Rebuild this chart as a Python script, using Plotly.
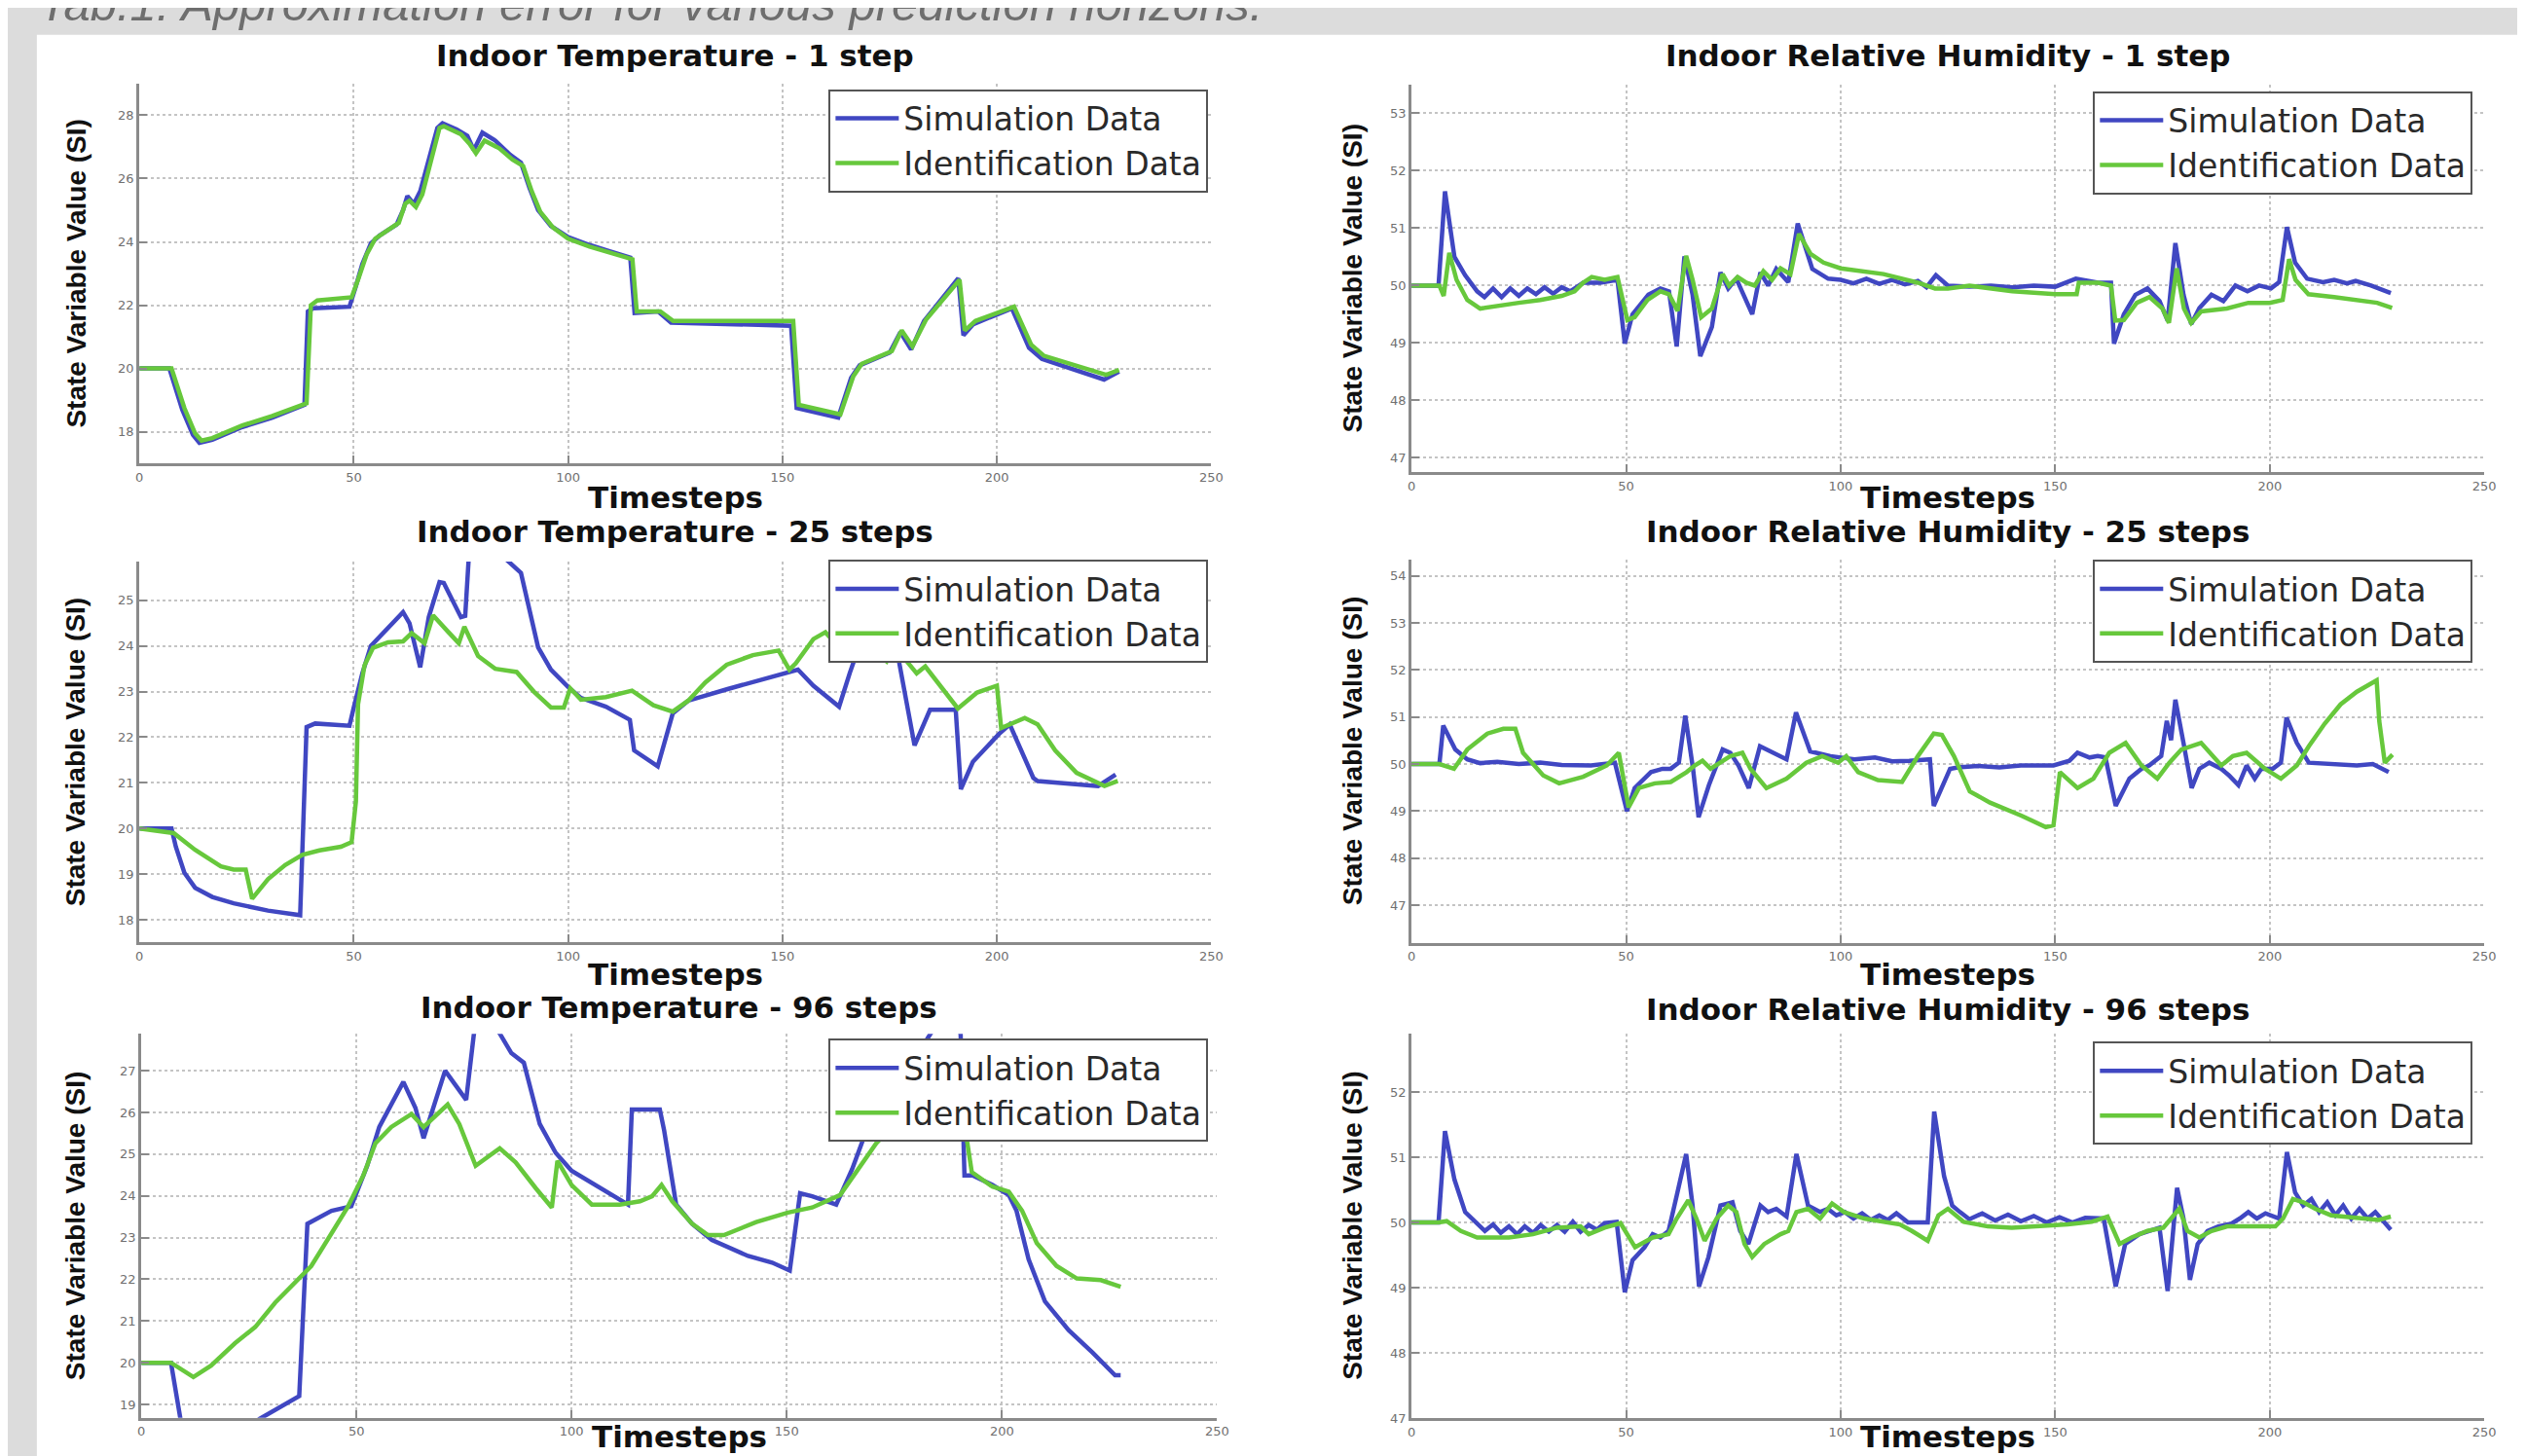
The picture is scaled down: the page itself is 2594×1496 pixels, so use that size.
import plotly.graph_objects as go

W, H = 2594, 1496

# ---------------- data ----------------
# Panel 1: Indoor Temperature - 1 step
t1_sim = [0,7,10,12.5,14,17,24,31,38.5,39.3,40.5,49,50.5,52,54,56,60,61.5,62.5,64,65.5,69.5,70.7,74,76.5,78,80,83,86.5,89,91,93,96,100,105,114.5,115.5,121,124,152,153.3,163,166,168,175,177.5,180,183,191,192.2,194.5,203.5,207.5,210.5,225,228.5]
v1_sim = [20,20,18.7,17.9,17.65,17.75,18.15,18.45,18.85,21.8,21.9,21.95,22.6,23.3,23.95,24.2,24.55,25.0,25.45,25.2,25.6,27.6,27.75,27.55,27.35,26.9,27.45,27.2,26.75,26.5,25.7,25.0,24.5,24.15,23.9,23.5,21.75,21.8,21.45,21.35,18.75,18.45,19.7,20.1,20.5,21.15,20.6,21.5,22.85,21.05,21.4,21.9,20.65,20.3,19.65,19.9]
t1_id = [0,7.5,10.5,13,14.5,17,24,31,39,40,41.5,49.5,51,53,55,60.5,62,63,64.5,66,70,71,75,77,78.5,80.5,84,87,89.5,91.5,93.5,96.5,100,105,115,116,121.5,124.5,152.5,153.8,163.5,166.5,168.5,175.5,177.8,180.3,183.5,191.3,192.5,195,204,208,211,225.5,228.5]
v1_id = [20,20,18.75,17.95,17.72,17.8,18.2,18.5,18.9,22.0,22.15,22.25,22.8,23.6,24.1,24.6,25.2,25.3,25.1,25.5,27.6,27.65,27.4,27.1,26.8,27.2,26.95,26.6,26.4,25.6,24.95,24.45,24.1,23.85,23.45,21.8,21.8,21.5,21.5,18.85,18.55,19.75,20.15,20.55,21.2,20.7,21.55,22.8,21.2,21.5,21.95,20.75,20.4,19.8,19.95]

# Panel 2: Indoor Relative Humidity - 1 step
t2_sim = [0,6.3,7.8,10,12.5,15.3,17,19,21,23,25,27,29,31,33,35,37,40,44,48,49.7,51.5,55.2,58,60,61.8,63.6,65.5,67.3,70,72,73.8,75.7,77.6,79.4,81.3,83.1,85,87.8,90,93.4,97.1,100,103,106,109,112,115,118,120,122.2,125,130,135,140,145,150,154.8,160,163,163.7,166,168.7,171.5,174.3,176.2,178,179.9,181.7,183.6,186.4,189.2,192,194.8,197.5,200.3,202.2,204,205.9,208.7,212.4,215,218,220,223.6,228.2]
v2_sim = [50,50,51.64,50.5,50.18,49.9,49.8,49.95,49.8,49.95,49.82,49.95,49.85,49.97,49.86,49.97,49.9,50.05,50.05,50.1,48.99,49.5,49.84,49.95,49.9,48.94,50.51,49.84,48.77,49.28,50.23,49.95,50.12,49.78,49.5,50.23,50.0,50.29,50.06,51.08,50.29,50.12,50.1,50.04,50.12,50.03,50.1,50.02,50.08,49.97,50.18,50.0,49.98,50.0,49.97,50.0,49.98,50.12,50.05,50.05,48.99,49.5,49.84,49.95,49.73,49.39,50.74,49.84,49.33,49.61,49.84,49.73,50.0,49.9,50.0,49.95,50.06,51.02,50.4,50.12,50.06,50.1,50.04,50.08,50.0,49.87]
t2_id = [0,6.5,7.5,8.8,10.5,13,16,20,25,30,35,38,40,42,45,48,50.3,52,55,58,60,62,64,65.5,67.5,70,72.5,74,76,78,80,82,84,86,88.3,90.3,93,96,100,110,118,122,125,130,135,140,150,155,155.5,160,163,164,166,169,172,175,176.5,178.3,180,181.7,184,190,195,200,203,204.5,206,209,215,220,225,228.5]
v2_id = [50,50,49.82,50.57,50.1,49.75,49.6,49.65,49.7,49.75,49.82,49.9,50.05,50.15,50.1,50.15,49.4,49.45,49.75,49.9,49.85,49.56,50.52,50.1,49.45,49.6,50.2,50.0,50.15,50.05,50.0,50.25,50.1,50.3,50.2,50.9,50.55,50.4,50.3,50.2,50.05,49.95,49.95,50.0,49.95,49.9,49.85,49.85,50.05,50.05,50.0,49.39,49.4,49.7,49.8,49.6,49.35,50.3,49.6,49.35,49.55,49.6,49.7,49.7,49.75,50.46,50.1,49.85,49.8,49.75,49.7,49.61]

# Panel 3: Indoor Temperature - 25 steps
t3_sim = [0,7.5,8.5,10.5,13,17,22,30,37.5,39,41,49,50,52,54,58,61.5,63,65.5,67.5,70,71,75,76,76.8,79,83,85.5,89,93,96,100,103,108.8,114.4,115.4,120.9,124.4,128,137,149.1,153.6,157.2,163.2,165.7,168.2,171,173,175.5,176.5,180.8,184.4,190.4,191.6,194.4,200.5,203,208.5,209.5,215.6,223.6,227.7]
v3_sim = [20,20,19.6,19.03,18.7,18.5,18.36,18.2,18.1,22.22,22.3,22.25,22.65,23.4,24.0,24.4,24.74,24.5,23.53,24.63,25.4,25.38,24.63,24.66,25.9,26.6,26.5,25.9,25.6,23.97,23.48,23.1,22.86,22.67,22.38,21.71,21.36,22.52,22.8,23.05,23.37,23.48,23.13,22.67,23.41,24.08,23.85,23.7,24.05,24.0,21.82,22.6,22.6,20.86,21.46,22.07,22.28,21.11,21.04,21.0,20.93,21.18]
t3_id = [0,8,13,19,22,24.8,26.3,30,34,38,42,47,49.5,50.5,51,52.5,54.5,58,61.5,63.5,66.5,68.5,72,74.5,75.8,79,83,88,92,96,99,100.5,103,108.8,114.9,119.9,124.4,128,132,137,143.1,149.1,151.6,153.1,157.2,160,163.2,166,170,174.3,176.3,178.8,181.3,183.3,190.9,195.4,200,201,203,206.5,209.5,213.6,218.6,223.6,225.1,228.2]
v3_id = [20,19.9,19.53,19.17,19.1,19.1,18.46,18.89,19.2,19.42,19.52,19.6,19.7,20.59,22.72,23.57,23.96,24.08,24.1,24.28,24.06,24.67,24.31,24.06,24.42,23.78,23.5,23.43,23.0,22.65,22.65,23.07,22.82,22.88,23.02,22.7,22.56,22.8,23.2,23.59,23.8,23.9,23.48,23.62,24.15,24.3,23.97,24.2,24.0,23.66,23.97,23.69,23.4,23.55,22.63,22.98,23.13,22.2,22.28,22.42,22.28,21.71,21.22,21.0,20.93,21.04]

# Panel 4: Indoor Relative Humidity - 25 steps
t4_sim = [0,6.5,7.4,10.2,13,16,20,25,30,35,41.8,47.4,50.2,52,55.8,58.5,60.4,62.3,63.8,65.6,66.9,69.3,72.5,74.3,76.2,78.6,81.2,83.6,87.4,89.6,92.9,97.6,103.2,108,112,116,120.8,121.7,125.5,127.3,132,137,142,149.6,153.3,155.2,158,159.9,161.7,164.1,167.3,170.1,171.9,174.7,176,177,178,179.9,181.8,183.6,185.9,188.7,190.5,192.7,194.6,196.5,198,200.7,202.6,203.9,206.3,209.1,214.7,220.3,224,227.7]
v4_sim = [50,50,50.82,50.31,50.1,50.02,50.05,50.0,50.03,49.98,49.97,50.03,49.0,49.49,49.83,49.9,49.9,50.03,51.03,49.9,48.87,49.55,50.31,50.24,49.97,49.49,50.38,50.27,50.1,51.1,50.27,50.17,50.1,50.14,50.06,50.07,50.1,49.11,49.9,49.93,49.96,49.93,49.97,49.97,50.07,50.24,50.14,50.17,50.14,49.11,49.69,49.9,49.97,50.17,50.92,50.51,51.37,50.45,49.49,49.9,50.03,49.9,49.76,49.55,49.97,49.69,49.9,49.9,50.03,50.99,50.45,50.03,50.0,49.97,50.0,49.83]
t4_id = [0,6.5,9.9,13,17.7,21.4,24.2,26,30.7,34.4,40,45.5,48.3,50.6,53,56.7,60.4,64.1,66,67.8,69.7,74.3,77.1,79,82.7,87.4,92,95.7,99.4,101.3,104.1,108.7,114.3,118,121.7,123.6,126.4,130.1,134.8,142.2,147.8,149.6,151.1,155.2,158.9,162.6,166.4,170.1,173.8,176.6,179.4,184,188.7,191.4,194.6,198.9,202.6,206.3,209.1,212.8,216.5,220.3,224.9,225.5,226.8,228.6]
v4_id = [50,50,49.9,50.31,50.65,50.75,50.75,50.24,49.76,49.59,49.73,49.97,50.24,49.08,49.49,49.59,49.62,49.83,49.97,50.07,49.9,50.17,50.24,49.9,49.49,49.69,50.03,50.17,50.03,50.17,49.83,49.66,49.62,50.17,50.65,50.62,50.17,49.42,49.18,48.9,48.66,48.7,49.83,49.49,49.69,50.24,50.45,49.97,49.69,50.03,50.31,50.45,49.97,50.17,50.24,49.9,49.69,49.97,50.38,50.86,51.27,51.54,51.78,50.92,50.03,50.2]

# Panel 5: Indoor Temperature - 96 steps
t5_sim = [0,6.9,9.1,10,26,27.4,36.7,38.6,44.2,48.8,52.5,55.3,60.9,63.7,65.6,70.6,75.5,77.3,80,83.3,86,88.9,92.6,96.3,100,105.6,110.3,113.1,114,120.5,121.5,124.3,128,132.6,141,146.6,150.7,153.1,155.9,161.5,165.2,168,172.7,178,183.5,186,190.4,191.3,193.2,197.8,201.6,203.4,206.2,210,215.5,221.1,226.3,227.6]
v5_sim = [20,20,18.65,18.4,18.5,18.65,19.2,23.33,23.64,23.75,24.72,25.65,26.73,26.11,25.38,27.0,26.3,27.89,28.4,27.89,27.42,27.19,25.72,25.03,24.6,24.26,23.99,23.79,26.07,26.07,25.57,23.79,23.33,22.94,22.56,22.4,22.21,24.06,23.99,23.79,24.64,25.42,25.88,27.0,27.9,28.3,27.9,24.49,24.49,24.26,24.02,23.64,22.48,21.47,20.78,20.24,19.7,19.7]
t5_id = [0,6.9,12.1,16.2,21.8,26.5,31.1,35.8,39.5,44.2,47.9,51.6,54.4,58.1,62.8,65.6,71.2,73.9,77.7,83.3,87,91.7,95.4,96.7,100,104.7,111.2,115.9,118.7,120.9,123.4,128,131.7,135.4,142.9,150.3,155.9,162.4,167.1,170.8,174.5,176.4,182,188,190,193,197.8,201.6,204.7,208.1,212.7,217.4,223,227.6]
v5_id = [20,20,19.66,19.93,20.47,20.86,21.44,21.94,22.32,23.1,23.72,24.49,25.26,25.65,25.96,25.65,26.19,25.72,24.72,25.14,24.8,24.18,23.72,24.84,24.26,23.79,23.79,23.87,23.99,24.26,23.87,23.33,23.06,23.06,23.37,23.6,23.72,24.02,24.72,25.26,25.65,26.03,26.6,27.0,26.6,24.57,24.22,24.1,23.64,22.87,22.32,22.02,21.98,21.82]

# Panel 6: Indoor Relative Humidity - 96 steps
t6_sim = [0,6.3,7.8,10,12.5,15.3,17.1,19,20.8,22.7,24.6,26.4,28.3,30.1,32,33.9,35.7,37.6,39.4,41.3,43.2,45,47.8,49.7,51.5,54.3,56.2,58,59.9,61.8,64,65.5,67,69.2,72,74.8,76.6,78.5,81.3,83.1,85,87.4,89.7,92.4,95.2,97,99,101,103,105,107,109,111,113,115.7,120.3,121.8,124.1,126,127.8,130,133,136,139,142,145,148,151,154,157,161.3,164.1,166.3,169.6,172.4,174.3,176.2,178.4,179.9,181.4,183.2,185.5,188,191,193,195,197,199,202.2,204,205.9,207.8,209.7,211.5,213.4,215.3,217.1,219,220.9,222.8,224.6,228.2]
v6_sim = [50,50,51.4,50.66,50.16,49.97,49.87,49.97,49.84,49.94,49.82,49.94,49.84,49.96,49.86,49.96,49.86,50.01,49.86,49.96,49.89,49.99,50.01,48.93,49.42,49.62,49.82,49.77,49.87,50.41,51.05,50.26,49.02,49.47,50.26,50.31,49.87,49.67,50.26,50.16,50.21,50.09,51.05,50.26,50.16,50.21,50.11,50.16,50.06,50.14,50.04,50.11,50.04,50.14,50.0,50.0,51.7,50.71,50.26,50.16,50.05,50.14,50.03,50.12,50.02,50.1,50.0,50.08,50.0,50.07,50.06,49.02,49.67,49.82,49.87,49.92,48.95,50.53,50.06,49.12,49.67,49.87,49.94,49.98,50.06,50.16,50.06,50.14,50.06,51.08,50.46,50.26,50.36,50.16,50.31,50.11,50.26,50.06,50.21,50.06,50.16,49.89]
t6_id = [0,6.3,8.2,11.5,15.3,22.7,28.3,33.9,39.4,41.3,45,48.7,52.1,56.2,59.9,61.8,64.5,66.4,68.3,71.1,73.8,75.7,77.6,79.4,82.2,86,87.8,89.7,92.4,95.2,98,100.8,105.5,110.1,113.8,116.6,120.3,122.8,125,128.7,134.3,139.9,145.5,152.9,158.5,162.2,165,167.8,171.5,175.2,178.9,180.8,183.6,186.4,190.1,195.7,201.3,203.1,205.4,207.8,210.6,214.3,218,221.7,225.4,228.2]
v6_id = [50,50,50.02,49.87,49.77,49.77,49.82,49.92,49.94,49.82,49.92,49.99,49.62,49.77,49.82,50.06,50.34,50.06,49.72,50.06,50.26,50.16,49.67,49.47,49.67,49.82,49.87,50.16,50.21,50.06,50.29,50.16,50.06,50.01,49.97,49.87,49.72,50.11,50.21,50.01,49.94,49.92,49.94,49.97,50.01,50.09,49.67,49.77,49.87,49.92,50.21,49.87,49.77,49.87,49.94,49.94,49.94,50.06,50.36,50.31,50.21,50.11,50.09,50.06,50.04,50.09]

titles = ["Indoor Temperature - 1 step", "Indoor Relative Humidity - 1 step",
          "Indoor Temperature - 25 steps", "Indoor Relative Humidity - 25 steps",
          "Indoor Temperature - 96 steps", "Indoor Relative Humidity - 96 steps"]
x_ticks = [0, 50, 100, 150, 200, 250]
y_ticks = [[18, 20, 22, 24, 26, 28], [47, 48, 49, 50, 51, 52, 53],
           [18, 19, 20, 21, 22, 23, 24, 25], [47, 48, 49, 50, 51, 52, 53, 54],
           [19, 20, 21, 22, 23, 24, 25, 26, 27], [47, 48, 49, 50, 51, 52]]
y_ranges = [(17, 29), (46.75, 53.5), (17.5, 25.85), (46.2, 54.35), (18.68, 27.88), (47, 52.9)]
series = [(t1_sim, v1_sim, t1_id, v1_id), (t2_sim, v2_sim, t2_id, v2_id),
          (t3_sim, v3_sim, t3_id, v3_id), (t4_sim, v4_sim, t4_id, v4_id),
          (t5_sim, v5_sim, t5_id, v5_id), (t6_sim, v6_sim, t6_id, v6_id)]

# ---------------- layout geometry (pixels) ----------------
x_boxes = [(132, 1240), (1447, 2556), (132, 1240), (1447, 2556), (134, 1246), (1447, 2556)]
y_boxes = [(78.3, 470.7), (79.3, 479.8), (572, 965.6), (570, 965.8), (1060, 1456.6), (1059.3, 1457)]
title_y = [49, 49, 541, 541, 1033, 1035]
xlabel_y = [506, 506, 998, 998, 1476, 1476]
ytitle_x = [66, 1386, 66, 1386, 66, 1386]
legend_boxes = [(1237, 84), (2544, 86), (1237, 570), (2544, 570), (1237, 1065), (2544, 1068)]

BLUE = "#4047c2"
GREEN = "#67c83c"

def fx(p):
    return p / W

def fy(p):
    return 1 - p / H

fig = go.Figure()
layout = dict(
    width=W, height=H, margin=dict(l=0, r=0, t=0, b=0),
    paper_bgcolor="#dcdcdc", plot_bgcolor="white",
    showlegend=True,
)
annotations = []
for i in range(6):
    n = i + 1
    xa = "x" if n == 1 else f"x{n}"
    ya = "y" if n == 1 else f"y{n}"
    lg = "legend" if n == 1 else f"legend{n}"
    ts, vs, ti, vi = series[i]
    fig.add_trace(go.Scatter(x=ts, y=vs, mode="lines", name="Simulation Data",
                             line=dict(color=BLUE, width=4.5), xaxis=xa, yaxis=ya, legend=lg))
    fig.add_trace(go.Scatter(x=ti, y=vi, mode="lines", name="Identification Data",
                             line=dict(color=GREEN, width=4.5), xaxis=xa, yaxis=ya, legend=lg))
    axis_common = dict(showline=True, linecolor="#8a8a8a", linewidth=3, mirror=False,
                       showgrid=True, gridcolor="#c4c4c4", griddash="dot", gridwidth=2,
                       ticks="inside", ticklen=8, tickcolor="#8a8a8a", tickwidth=2,
                       zeroline=False,
                       tickfont=dict(family="DejaVu Sans", size=13, color="#707070"))
    xk = "xaxis" if n == 1 else f"xaxis{n}"
    yk = "yaxis" if n == 1 else f"yaxis{n}"
    layout[xk] = dict(axis_common, domain=[fx(x_boxes[i][0]), fx(x_boxes[i][1])],
                      range=[0, 250], tickvals=x_ticks, anchor=ya)
    layout[yk] = dict(axis_common, domain=[fy(y_boxes[i][1]), fy(y_boxes[i][0])],
                      range=list(y_ranges[i]), tickvals=y_ticks[i], anchor=xa)
    layout[lg] = dict(x=fx(legend_boxes[i][0]), y=fy(legend_boxes[i][1]),
                      xanchor="right", yanchor="top", bgcolor="white",
                      bordercolor="#555555", borderwidth=2,
                      font=dict(family="DejaVu Sans", size=33, color="#2a2a2a"),
                      tracegroupgap=0, itemwidth=65)
    xc = (x_boxes[i][0] + x_boxes[i][1]) / 2
    yc = (y_boxes[i][0] + y_boxes[i][1]) / 2
    annotations.append(dict(text="<b>" + titles[i] + "</b>", x=fx(xc), y=fy(title_y[i]),
                            xref="paper", yref="paper", xanchor="center", yanchor="middle",
                            showarrow=False, font=dict(family="DejaVu Sans", size=31, color="#111111")))
    annotations.append(dict(text="<b>Timesteps</b>", x=fx(xc), y=fy(xlabel_y[i]),
                            xref="paper", yref="paper", xanchor="center", yanchor="middle",
                            showarrow=False, font=dict(family="DejaVu Sans", size=31, color="#111111")))
    annotations.append(dict(text="<b>State Variable Value (SI)</b>", x=fx(ytitle_x[i]), y=fy(yc),
                            xref="paper", yref="paper", xanchor="center", yanchor="middle",
                            textangle=-90, showarrow=False,
                            font=dict(family="Liberation Sans", size=28, color="#111111")))

annotations.append(dict(text="<i>Tab.1: Approximation error for various prediction horizons.</i>",
                        x=fx(26), y=fy(25), xref="paper", yref="paper",
                        xanchor="left", yanchor="bottom", showarrow=False,
                        font=dict(family="Liberation Sans", size=49, color="#6e6e6e")))
layout["annotations"] = annotations
layout["shapes"] = [dict(type="rect", xref="paper", yref="paper", x0=fx(26), x1=1,
                         y0=0, y1=fy(28), fillcolor="white", line=dict(width=0), layer="below")]
fig.update_layout(**layout)
fig.write_html("out.html")
